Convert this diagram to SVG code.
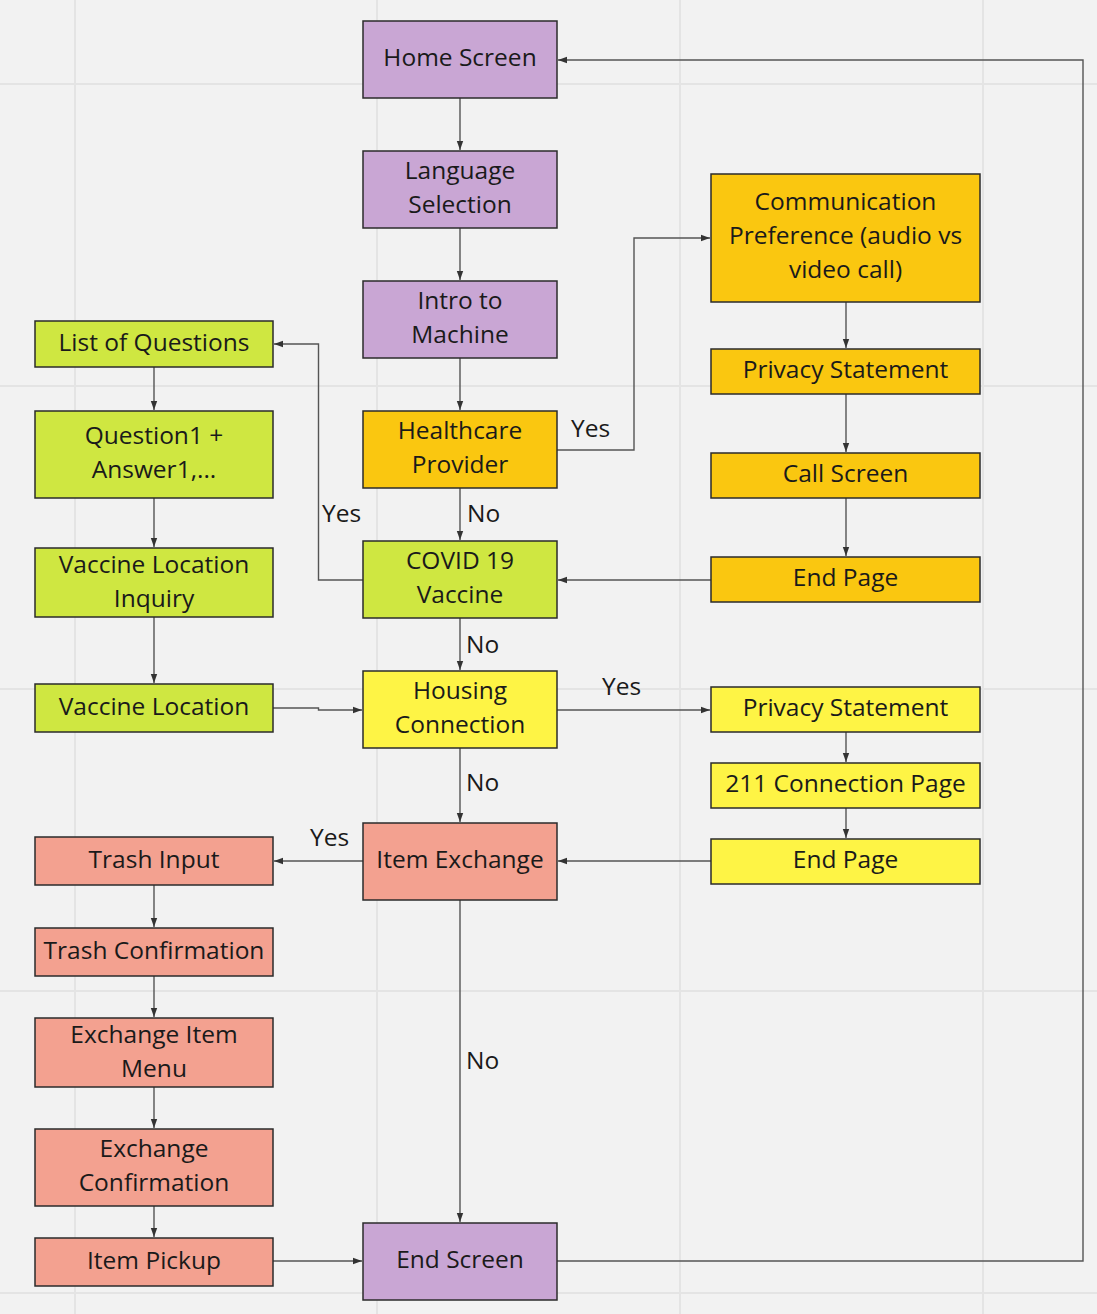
<svg xmlns="http://www.w3.org/2000/svg" width="1097" height="1314" viewBox="0 0 1097 1314">
<defs>
<marker id="ah" markerUnits="userSpaceOnUse" markerWidth="10" markerHeight="8" refX="9" refY="4" orient="auto">
<path d="M0,0.8 L9,4 L0,7.2 Z" fill="#333"/>
</marker>
<style>
.bg{fill:#f2f2f2}
.grid{stroke:#e4e4e4;stroke-width:2;fill:none}
.n rect{stroke:#2b2b2b;stroke-width:1.5}
.n text, .lbl{font-family:"Open Sans","Noto Sans","Liberation Sans",sans-serif;font-size:24.5px;fill:#1a1a1a;text-anchor:middle}
.n text{transform:translateY(-1.5px)}
.lbl{text-anchor:start}
.purple{fill:#c9a6d4}
.orange{fill:#fac710}
.green{fill:#cfe741}
.yellow{fill:#fef445}
.salmon{fill:#f3a190}
.c path{stroke:#555;stroke-width:1.4;fill:none;marker-end:url(#ah)}
</style>
</defs>
<rect class="bg" x="0" y="0" width="1097" height="1314"/>
<g id="grid" class="grid">
<path d="M75,0V1314M377,0V1314M680,0V1314M983,0V1314"/>
<path d="M0,84H1097M0,386H1097M0,689H1097M0,991H1097M0,1293H1097"/>
</g>
<g id="connectors" class="c">
<path d="M460,98V150"/>
<path d="M460,228V280"/>
<path d="M460,358V410"/>
<path d="M557,450H634V238H710"/>
<path d="M460,488V540"/>
<path d="M363,580H318.5V344H274"/>
<path d="M460,618V670"/>
<path d="M846,302V348"/>
<path d="M846,394V452"/>
<path d="M846,498V556"/>
<path d="M711,580H558"/>
<path d="M154,367V410"/>
<path d="M154,498V547"/>
<path d="M154,617V683"/>
<path d="M273,708H318.5V710H362"/>
<path d="M557,710H710"/>
<path d="M846,732V762"/>
<path d="M846,808V838"/>
<path d="M711,861H558"/>
<path d="M460,748V822"/>
<path d="M363,861H274"/>
<path d="M154,885V927"/>
<path d="M154,976V1017"/>
<path d="M154,1087V1128"/>
<path d="M154,1206V1237"/>
<path d="M273,1261H362"/>
<path d="M460,900V1222"/>
<path d="M557,1261H1083V60H558"/>
</g>
<g id="labels">
<text class="lbl" x="571" y="437">Yes</text>
<text class="lbl" x="467" y="522">No</text>
<text class="lbl" x="322" y="522">Yes</text>
<text class="lbl" x="466" y="653">No</text>
<text class="lbl" x="602" y="695">Yes</text>
<text class="lbl" x="466" y="791">No</text>
<text class="lbl" x="310" y="846">Yes</text>
<text class="lbl" x="466" y="1069">No</text>
</g>
<g id="home" class="n"><rect class="purple" x="363" y="21" width="194" height="77"/><text x="460" y="67.5">Home Screen</text></g>
<g id="language" class="n"><rect class="purple" x="363" y="151" width="194" height="77"/><text x="460" y="180.75">Language</text><text x="460" y="214.75">Selection</text></g>
<g id="intro" class="n"><rect class="purple" x="363" y="281" width="194" height="77"/><text x="460" y="310.75">Intro to</text><text x="460" y="344.75">Machine</text></g>
<g id="healthcare" class="n"><rect class="orange" x="363" y="411" width="194" height="77"/><text x="460" y="440.75">Healthcare</text><text x="460" y="474.75">Provider</text></g>
<g id="covid" class="n"><rect class="green" x="363" y="541" width="194" height="77"/><text x="460" y="570.75">COVID 19</text><text x="460" y="604.75">Vaccine</text></g>
<g id="housing" class="n"><rect class="yellow" x="363" y="671" width="194" height="77"/><text x="460" y="700.75">Housing</text><text x="460" y="734.75">Connection</text></g>
<g id="itemexchange" class="n"><rect class="salmon" x="363" y="823" width="194" height="77"/><text x="460" y="869.5">Item Exchange</text></g>
<g id="endscreen" class="n"><rect class="purple" x="363" y="1223" width="194" height="77"/><text x="460" y="1269.5">End Screen</text></g>
<g id="commpref" class="n"><rect class="orange" x="711" y="174" width="269" height="128"/><text x="845.5" y="211">Communication</text><text x="845.5" y="245">Preference (audio vs</text><text x="845.5" y="279">video call)</text></g>
<g id="privacy1" class="n"><rect class="orange" x="711" y="349" width="269" height="45"/><text x="845.5" y="379.5">Privacy Statement</text></g>
<g id="callscreen" class="n"><rect class="orange" x="711" y="453" width="269" height="45"/><text x="845.5" y="483.5">Call Screen</text></g>
<g id="endpage1" class="n"><rect class="orange" x="711" y="557" width="269" height="45"/><text x="845.5" y="587.5">End Page</text></g>
<g id="privacy2" class="n"><rect class="yellow" x="711" y="687" width="269" height="45"/><text x="845.5" y="717.5">Privacy Statement</text></g>
<g id="connection211" class="n"><rect class="yellow" x="711" y="763" width="269" height="45"/><text x="845.5" y="793.5">211 Connection Page</text></g>
<g id="endpage2" class="n"><rect class="yellow" x="711" y="839" width="269" height="45"/><text x="845.5" y="869.5">End Page</text></g>
<g id="listq" class="n"><rect class="green" x="35" y="321" width="238" height="46"/><text x="154" y="352">List of Questions</text></g>
<g id="q1" class="n"><rect class="green" x="35" y="411" width="238" height="87"/><text x="154" y="445">Question1 +</text><text x="154" y="479">Answer1,...</text></g>
<g id="vli" class="n"><rect class="green" x="35" y="548" width="238" height="69"/><text x="154" y="574">Vaccine Location</text><text x="154" y="608">Inquiry</text></g>
<g id="vl" class="n"><rect class="green" x="35" y="684" width="238" height="48"/><text x="154" y="716">Vaccine Location</text></g>
<g id="trashinput" class="n"><rect class="salmon" x="35" y="837" width="238" height="48"/><text x="154" y="869">Trash Input</text></g>
<g id="trashconf" class="n"><rect class="salmon" x="35" y="928" width="238" height="48"/><text x="154" y="960">Trash Confirmation</text></g>
<g id="exmenu" class="n"><rect class="salmon" x="35" y="1018" width="238" height="69"/><text x="154" y="1044">Exchange Item</text><text x="154" y="1078">Menu</text></g>
<g id="exconf" class="n"><rect class="salmon" x="35" y="1129" width="238" height="77"/><text x="154" y="1158.75">Exchange</text><text x="154" y="1192.75">Confirmation</text></g>
<g id="pickup" class="n"><rect class="salmon" x="35" y="1238" width="238" height="48"/><text x="154" y="1270">Item Pickup</text></g>
</svg>
